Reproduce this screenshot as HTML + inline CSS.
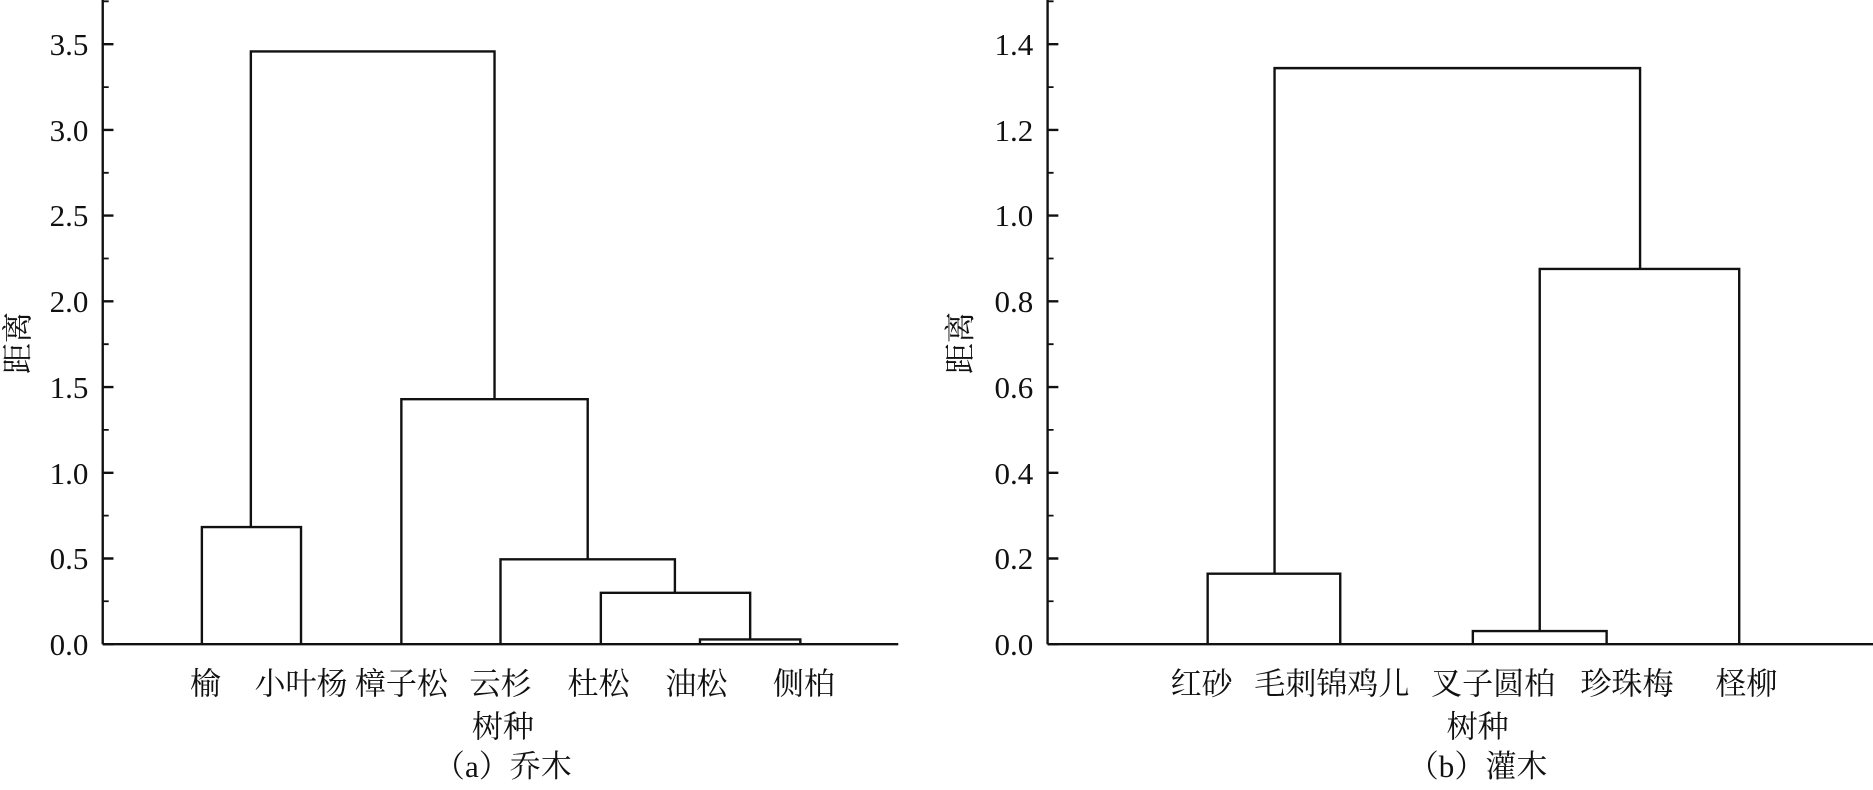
<!DOCTYPE html>
<html><head><meta charset="utf-8"><style>
html,body{margin:0;padding:0;background:#fff;}
svg{display:block;}
text{font-family:"Liberation Serif","Noto Serif CJK SC",serif;fill:#111;}
</style></head><body>
<svg width="1873" height="790" viewBox="0 0 1568 661" preserveAspectRatio="none" xmlns="http://www.w3.org/2000/svg">
<g stroke="#111" stroke-width="2" fill="none">
<!-- left axes -->
<line x1="86" y1="0" x2="86" y2="539"/>
<line x1="86" y1="539" x2="752" y2="539"/>
<!-- major ticks -->
<path d="M86 539h9M86 467.3h9M86 395.6h9M86 323.9h9M86 252.1h9M86 180.4h9M86 108.7h9M86 37h9"/>
<path d="M86 503.1h5M86 431.4h5M86 359.7h5M86 288h5M86 216.3h5M86 144.6h5M86 72.9h5M86 1.1h5" stroke-width="1.5"/>
<!-- left dendrogram -->
<path d="M169 539V441H252V539"/>
<path d="M210 441V43H414V334"/>
<path d="M336 539V334H492V468"/>
<path d="M419 539V468H565V496"/>
<path d="M503 539V496H628V535"/>
<path d="M586 539V535H670V539"/>
<!-- right axes -->
<line x1="877" y1="0" x2="877" y2="539"/>
<line x1="877" y1="539" x2="1568" y2="539"/>
<path d="M877 539h9M877 467.3h9M877 395.6h9M877 323.9h9M877 252.1h9M877 180.4h9M877 108.7h9M877 37h9"/>
<path d="M877 503.1h5M877 431.4h5M877 359.7h5M877 288h5M877 216.3h5M877 144.6h5M877 72.9h5M877 1.1h5" stroke-width="1.5"/>
<path d="M1011 539V480H1122V539"/>
<path d="M1067 480V57H1373V225"/>
<path d="M1233 539V528H1345V539"/>
<path d="M1289 528V225H1456V539"/>
</g>
<g font-size="26" text-anchor="end">
<text x="74" y="548">0.0</text><text x="74" y="476">0.5</text><text x="74" y="405">1.0</text><text x="74" y="333">1.5</text><text x="74" y="261">2.0</text><text x="74" y="189">2.5</text><text x="74" y="118">3.0</text><text x="74" y="46">3.5</text>
<text x="865" y="548">0.0</text><text x="865" y="476">0.2</text><text x="865" y="405">0.4</text><text x="865" y="333">0.6</text><text x="865" y="261">0.8</text><text x="865" y="189">1.0</text><text x="865" y="118">1.2</text><text x="865" y="46">1.4</text>
</g>
<g font-size="26" text-anchor="middle">
<text x="172" y="581">榆</text><text x="252" y="581">小叶杨</text><text x="336" y="581">樟子松</text><text x="419" y="581">云杉</text><text x="501" y="581">杜松</text><text x="583" y="581">油松</text><text x="673" y="581">侧柏</text>
<text x="421" y="617">树种</text><text x="421" y="650">（a）乔木</text>
<text x="1006" y="581">红砂</text><text x="1115" y="581">毛刺锦鸡儿</text><text x="1250" y="581">叉子圆柏</text><text x="1362" y="581">珍珠梅</text><text x="1462" y="581">柽柳</text>
<text x="1237" y="617">树种</text><text x="1237" y="650">（b）灌木</text>
<text transform="translate(24,287) rotate(-90)">距离</text>
<text transform="translate(813,287) rotate(-90)">距离</text>
</g>
</svg>
</body></html>
